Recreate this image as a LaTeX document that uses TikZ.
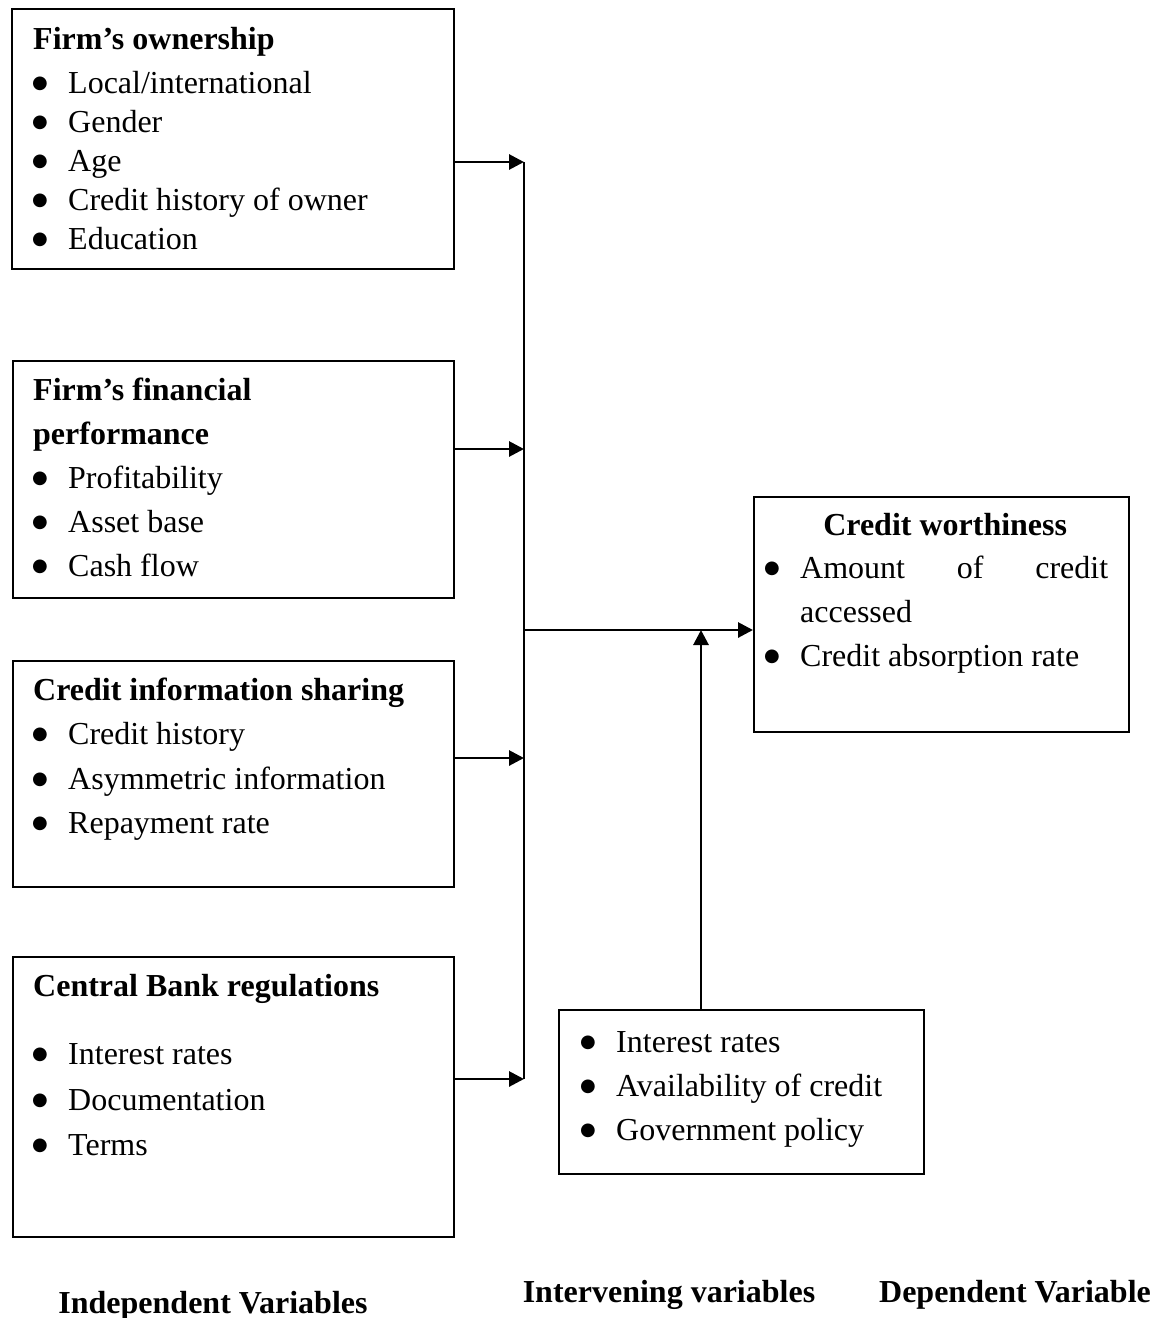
\documentclass[tikz,border=0pt]{standalone}
\usepackage{fontspec}
\setmainfont{Liberation Serif}
\newfontfamily\dotfont{DejaVu Sans}
\usetikzlibrary{arrows.meta}

\newcommand{\bul}{\makebox[35pt][l]{\hspace*{-1pt}\raisebox{5pt}{\dotfont\fontsize{18}{18}\selectfont ●}}}
\newcommand{\itm}[1]{\bul#1}

\tikzset{
    varbox/.style={draw, line width=1.7pt, inner sep=0pt, anchor=north west},
    boxtext/.style={anchor=base west, inner sep=0pt},
    feed/.style={-{Triangle[length=15pt,width=15pt]}, line width=2.9pt},
    bus/.style={line width=1.7pt},
    caption/.style={anchor=base, inner sep=0pt, font=\bfseries\fontsize{32}{38}\selectfont}
}

\begin{document}
\begin{tikzpicture}[x=1pt, y=-1pt]
    \useasboundingbox (0,0) rectangle (1165,1318);

    \node[varbox, minimum width=442pt, minimum height=260pt] (own) at (11,8) {};
    \node[varbox, minimum width=441pt, minimum height=237pt] (fin) at (12,360) {};
    \node[varbox, minimum width=441pt, minimum height=226pt] (info) at (12,660) {};
    \node[varbox, minimum width=441pt, minimum height=280pt] (cbr) at (12,956) {};
    \node[varbox, minimum width=375pt, minimum height=235pt] (cw) at (753,496) {};
    \node[varbox, minimum width=365pt, minimum height=164pt] (iv) at (558,1009) {};

    \node[boxtext] (own-list) at (33,49) {\fontsize{32}{39}\selectfont
        \parbox[t]{410pt}{\raggedright
            \textbf{Firm’s ownership}\\[5pt]
            \itm{Local/international}\\
            \itm{Gender}\\
            \itm{Age}\\
            \itm{Credit history of owner}\\
            \itm{Education}}};
    \node[boxtext] (fin-list) at (33,400) {\fontsize{32}{44.2}\selectfont
        \parbox[t]{410pt}{\raggedright
            \textbf{Firm’s financial}\\
            \textbf{performance}\\
            \itm{Profitability}\\
            \itm{Asset base}\\
            \itm{Cash flow}}};
    \node[boxtext] (info-list) at (33,700) {\fontsize{32}{44.5}\selectfont
        \parbox[t]{410pt}{\raggedright
            \textbf{Credit information sharing}\\
            \itm{Credit history}\\
            \itm{Asymmetric information}\\
            \itm{Repayment rate}}};
    \node[boxtext] (cbr-list) at (33,996) {\fontsize{32}{45.5}\selectfont
        \parbox[t]{410pt}{\raggedright
            \textbf{Central Bank regulations}\\[23pt]
            \itm{Interest rates}\\
            \itm{Documentation}\\
            \itm{Terms}}};
    \node[boxtext] (cw-list) at (764,535) {\fontsize{32}{43.7}\selectfont
        \parbox[t]{362pt}{\raggedright
            \makebox[362pt][c]{\textbf{Credit worthiness}}\\
            \makebox[1pt][l]{}\bul\makebox[308pt][s]{Amount of credit}\\
            \hspace*{36pt}accessed\\
            \makebox[1pt][l]{}\bul Credit absorption rate}};
    \node[boxtext] (iv-list) at (581,1052) {\fontsize{32}{44.2}\selectfont
        \parbox[t]{340pt}{\raggedright
            \bul Interest rates\\
            \bul Availability of credit\\
            \bul Government policy}};

    \coordinate (j1) at (524,162);
    \coordinate (j2) at (524,449);
    \coordinate (j3) at (524,758);
    \coordinate (j4) at (524,1079);
    \coordinate (hub) at (524,630);
    \coordinate (meet) at (701,630);

    \draw[bus] (j1) -- (j4);
    \draw[feed] (own.east |- j1) -- (j1);
    \draw[feed] (fin.east |- j2) -- (j2);
    \draw[feed] (info.east |- j3) -- (j3);
    \draw[feed] (cbr.east |- j4) -- (j4);
    \draw[feed] (hub) -- (hub -| cw.west);
    \draw[feed] (meet |- iv.north) -- (meet);

    \node[caption] (indep) at (213,1313) {Independent Variables};
    \node[caption] (interv) at (669,1302) {Intervening variables};
    \node[caption] (dep) at (1015,1302) {Dependent Variable};
\end{tikzpicture}
\end{document}
